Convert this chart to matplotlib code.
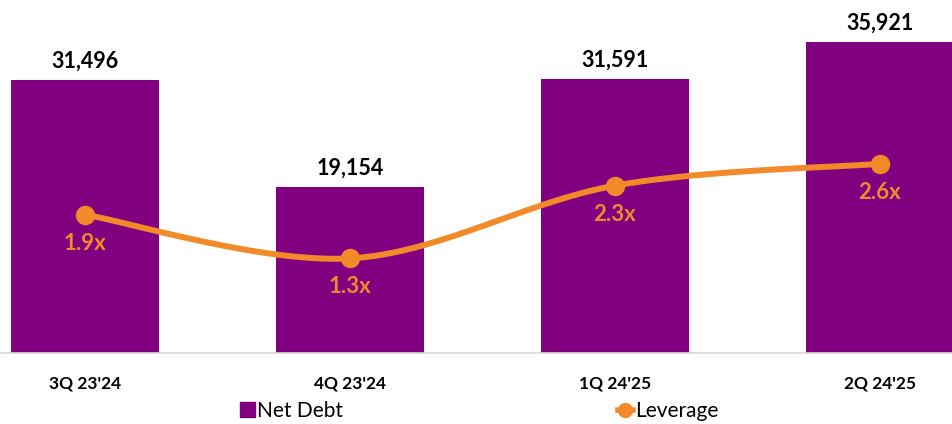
import numpy as np
import matplotlib
matplotlib.use("Agg")
import matplotlib.pyplot as plt
from matplotlib.lines import Line2D
from matplotlib.patches import Patch

quarters = ["3Q 23'24", "4Q 23'24", "1Q 24'25", "2Q 24'25"]
net_debt = [31496, 19154, 31591, 35921]
leverage = [1.9, 1.3, 2.3, 2.6]

purple = "#800080"
orange = "#F28A2A"

plt.rcParams['font.family'] = ['Lato', 'DejaVu Sans']

fig = plt.figure(figsize=(9.53, 4.24), dpi=100)
ax = fig.add_axes([0, 71 / 424, 1, 353 / 424])
x = np.arange(len(quarters))

ax.bar(x, net_debt, width=0.555, color=purple, zorder=2)
ax.set_xlim(-85 / 265, 3 + 73 / 265)
ax.set_ylim(0, 40725)
for xi, v in zip(x, net_debt):
    ax.annotate(f"{v:,}", (xi, v), xytext=(0, 6), textcoords="offset points",
                ha="center", va="bottom", fontsize=15.5, fontweight="bold", color="black")

for s in ["top", "left", "right"]:
    ax.spines[s].set_visible(False)
ax.spines["bottom"].set_color("#D9D9D9")
ax.spines["bottom"].set_linewidth(1.2)
ax.set_yticks([])
ax.set_xticks(x)
ax.set_xticklabels(quarters, fontsize=12.5, fontweight="bold")
ax.tick_params(axis="x", length=0, pad=16)

# secondary axis for leverage
ax2 = ax.twinx()
ax2.set_ylim(0, 4.85)
ax2.axis("off")

# smoothed line (Catmull-Rom through the points, in screen-like units)
sx, sy = 265.0, 72.8
px = x * sx
py = np.array(leverage) * sy
P = np.column_stack([px, py])
P = np.vstack([P[0], P, P[-1]])
curve = []
for i in range(1, len(P) - 2):
    p0, p1, p2, p3 = P[i - 1], P[i], P[i + 1], P[i + 2]
    for t in np.linspace(0, 1, 40):
        c = 0.5 * ((2 * p1) + (-p0 + p2) * t + (2 * p0 - 5 * p1 + 4 * p2 - p3) * t ** 2
                   + (-p0 + 3 * p1 - 3 * p2 + p3) * t ** 3)
        curve.append(c)
curve = np.array(curve)
ax2.plot(curve[:, 0] / sx, curve[:, 1] / sy, color=orange, lw=4.3, solid_capstyle="round", zorder=3)
ax2.plot(x, leverage, "o", color=orange, ms=13, zorder=4)
for xi, v in zip(x, leverage):
    ax2.annotate(f"{v}x", (xi, v), xytext=(0, -13), textcoords="offset points",
                 ha="center", va="top", fontsize=16, fontweight="bold", color=orange)

handles = [Patch(color=purple),
           Line2D([0], [0], color=orange, lw=4, marker="o", ms=10)]
fig.legend(handles, ["Net Debt", "Leverage"], loc="center left",
           bbox_to_anchor=(232 / 953, 13 / 424), ncol=2, frameon=False,
           fontsize=15, handlelength=0.7, handletextpad=0.1, columnspacing=13.2,
           borderaxespad=0, handleheight=0.7)

fig.savefig("out.png", dpi=100)
